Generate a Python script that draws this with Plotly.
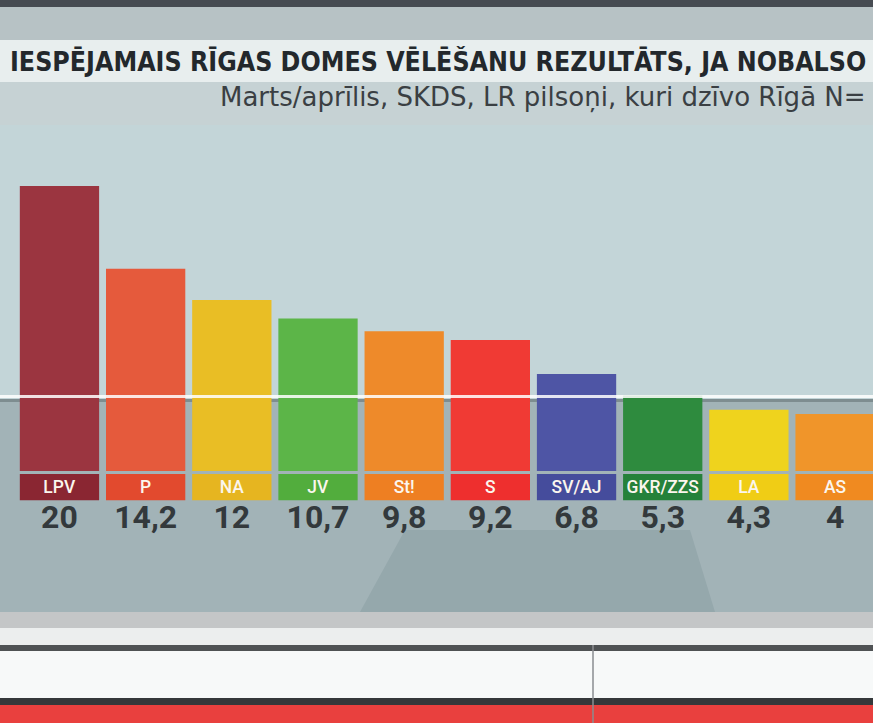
import plotly.graph_objects as go

parties = ["LPV", "P", "NA", "JV", "St!", "S", "SV/AJ", "GKR/ZZS", "LA", "AS"]
results = [20, 14.2, 12, 10.7, 9.8, 9.2, 6.8, 5.3, 4.3, 4]
bar_colors = ["#9b3540", "#e55a3c", "#e9be25", "#5cb548", "#ee8a2a",
              "#f03a34", "#4e55a5", "#2e8b3e", "#efd31d", "#f0952a"]
tag_colors = ["#8a2632", "#e24a2e", "#e6b520", "#52ad3d", "#ee7f22",
              "#ee2f2e", "#454c9c", "#25813a", "#f0cd15", "#f08a20"]

title = "IESPĒJAMAIS RĪGAS DOMES VĒLĒŠANU REZULTĀTS, JA NOBALSO"
subtitle = "Marts/aprīlis, SKDS, LR pilsoņi, kuri dzīvo Rīgā N="

W, H = 873, 723


def py(px):
    # pixel row -> paper fraction
    return 1 - px / H


def band(y0, y1, color, x0=0, x1=1, layer="below"):
    return dict(type="rect", xref="paper", yref="paper", x0=x0, x1=x1,
                y0=py(y1), y1=py(y0), fillcolor=color, line_width=0, layer=layer)


labels = [f"{v:g}".replace(".", ",") for v in results]

fig = go.Figure()

# party bars
fig.add_trace(go.Bar(
    x=parties, y=results, marker_color=bar_colors, marker_line_width=0,
    hoverinfo="skip", showlegend=False,
))

# coloured name tags under each bar
fig.add_trace(go.Bar(
    x=parties, y=[1.85] * len(parties), base=-2.05,
    marker_color=tag_colors, marker_line_width=0,
    text=parties, textposition="inside", insidetextanchor="middle",
    textangle=0,
    textfont=dict(family="Roboto", size=18, color="#fbf6ee", weight=500),
    hoverinfo="skip", showlegend=False,
))

# the numbers under the tags
fig.add_trace(go.Scatter(
    x=parties, y=[-3.45] * len(parties), mode="text", text=labels,
    textfont=dict(family="Roboto", size=32, color="#33393c", weight="bold"),
    hoverinfo="skip", showlegend=False,
))

shapes = [
    band(0, 7, "#464b52"),
    band(7, 40, "#b7c2c5"),
    band(40, 82, "#e8eeee"),
    band(82, 125, "#c6d2d4"),
    band(125, 396, "#c3d5d8"),
    band(399, 402, "#7e8d90"),
    band(402, 612, "#a2b3b7"),
    dict(type="path", xref="paper", yref="paper",
         path=f"M {360/W},{py(612)} L {405/W},{py(530)} L {690/W},{py(530)} L {715/W},{py(612)} Z",
         fillcolor="#95a8ac", line_width=0, layer="below"),
    band(612, 628, "#c4c6c7"),
    band(628, 645, "#eceeee"),
    band(645, 651, "#4f5254"),
    band(651, 698, "#f7f9f9"),
    band(698, 705, "#35383a"),
    band(705, 723, "#e9403e"),
    dict(type="line", xref="paper", yref="paper", x0=593/W, x1=593/W,
         y0=py(723), y1=py(645), line=dict(color="#8a8d90", width=1.5), layer="below"),
    # glass reflection running across the screen
    band(395, 398, "rgba(255,255,255,0.85)", layer="above"),
]

fig.update_layout(
    width=W, height=H,
    margin=dict(l=0, r=0, t=0, b=0),
    paper_bgcolor="#c3d5d8",
    plot_bgcolor="rgba(0,0,0,0)",
    bargap=0.08,
    barmode="overlay",
    shapes=shapes,
    xaxis=dict(range=[-0.69, 9.44], visible=False, fixedrange=True),
    yaxis=dict(range=[-17.68, 33.05], visible=False, fixedrange=True),
    annotations=[
        dict(text=title, xref="paper", yref="paper", x=8/W, y=py(61),
             xanchor="left", yanchor="middle", showarrow=False,
             font=dict(family="DejaVu Sans Condensed", size=26.5,
                       color="#23282c", weight="bold")),
        dict(text=subtitle, xref="paper", yref="paper", x=218/W, y=py(98),
             xanchor="left", yanchor="middle", showarrow=False,
             font=dict(family="DejaVu Sans", size=26, color="#3a3f43")),
    ],
)

fig.write_html("out.html", config={"displayModeBar": False},
               post_script="document.body.style.margin='0';")
